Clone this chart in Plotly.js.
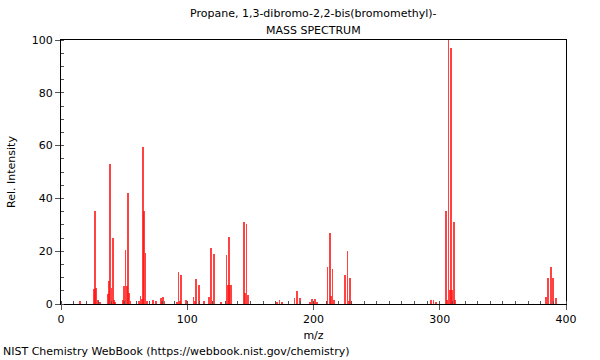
<!DOCTYPE html>
<html>
<head>
<meta charset="utf-8">
<script src="https://cdn.plot.ly/plotly-3.0.1.min.js"></script>
<style>html,body{margin:0;padding:0;background:#fff;}#chart{width:600px;height:360px;}</style>
</head>
<body>
<div id="chart"></div>
<script>
// m/z values and relative intensities
const mz = [15, 26, 27, 28, 29, 31, 37, 38, 39, 40, 41, 42, 43,
  49, 50, 51, 52, 53, 54, 55, 62, 63, 64, 65, 66, 67, 68, 73, 75,
  79, 80, 81, 82, 92, 93, 94, 95, 99, 105, 106, 107, 109, 113, 117, 119, 121, 127,
  131, 132, 133, 134, 135, 145, 146, 147, 148, 171, 173, 175, 185, 187, 189,
  197, 199, 201, 203, 211, 213, 214, 215, 216, 225, 227, 228, 229,
  293, 295, 297, 305, 306, 307, 308, 309, 310, 311, 312,
  384, 386, 388, 390, 392];
const intensity = [1.1, 5.7, 35.2, 6.0, 1.5, 0.6, 3.8, 8.7, 53.0, 6.2, 25.0, 1.5, 0.8,
  1.5, 6.9, 20.4, 6.9, 42.0, 4.3, 1.1, 1.2, 3.0, 1.8, 59.6, 35.3, 19.3, 1.0, 1.5, 1.0,
  2.3, 1.0, 2.5, 1.0, 0.9, 12.2, 1.0, 11.0, 1.5, 2.8, 1.0, 9.5, 7.2, 1.0, 2.5, 21.2, 19.1, 0.8,
  18.6, 7.2, 25.2, 7.2, 7.2, 31.2, 4.0, 30.3, 3.4, 0.8, 1.5, 0.9, 2.4, 4.8, 2.3,
  0.8, 1.9, 1.8, 0.8, 14.0, 27.0, 3.0, 13.3, 1.5, 10.9, 20.0, 1.0, 10.0,
  1.5, 1.5, 0.6, 35.2, 1.6, 100, 5.3, 96.8, 5.3, 31.0, 1.5,
  2.6, 10.0, 14.0, 9.7, 2.1];
const xTickVals = [0, 100, 200, 300, 400];
const yTickVals = [0, 20, 40, 60, 80, 100];
const titleLine1 = 'Propane, 1,3-dibromo-2,2-bis(bromomethyl)-';
const titleLine2 = 'MASS SPECTRUM';
const xTitle = 'm/z';
const yTitle = 'Rel. Intensity';
const footer = 'NIST Chemistry WebBook (https://webbook.nist.gov/chemistry)';

const font = {family: 'DejaVu Sans', size: 11, color: '#000'};

const trace = {
  type: 'bar',
  x: mz,
  y: intensity,
  width: 1.4,
  marker: {color: 'rgba(255,20,20,0.8)', line: {width: 0}},
  hoverinfo: 'x+y'
};

const layout = {
  width: 600, height: 360,
  margin: {l: 61, r: 34, t: 40, b: 56},
  paper_bgcolor: '#fff', plot_bgcolor: '#fff',
  font: font,
  showlegend: false,
  bargap: 0,
  xaxis: {
    range: [0, 400], tickmode: 'array', tickvals: xTickVals,
    ticks: 'outside', ticklen: 5, tickcolor: '#555', tickwidth: 1,
    minor: {dtick: 10, tick0: 0, ticks: 'inside', ticklen: 3, tickcolor: '#555'},
    showline: true, linecolor: '#000', linewidth: 1, mirror: true,
    showgrid: false, zeroline: false, fixedrange: true,
    title: {text: xTitle, font: font, standoff: 6},
    tickfont: font
  },
  yaxis: {
    range: [0, 100], tickmode: 'array', tickvals: yTickVals,
    ticks: 'outside', ticklen: 5, tickcolor: '#555', tickwidth: 1,
    minor: {dtick: 5, tick0: 0, ticks: 'inside', ticklen: 3, tickcolor: '#555'},
    showline: true, linecolor: '#000', linewidth: 1, mirror: true,
    showgrid: false, zeroline: false, fixedrange: true,
    title: {text: yTitle, font: font, standoff: 13},
    tickfont: font
  },
  annotations: [
    {text: titleLine1, xref: 'paper', yref: 'paper', x: 0.5, y: 1, yshift: 27,
     xanchor: 'center', yanchor: 'middle', showarrow: false, font: font},
    {text: titleLine2, xref: 'paper', yref: 'paper', x: 0.5, y: 1, yshift: 10,
     xanchor: 'center', yanchor: 'middle', showarrow: false, font: font},
    {text: footer, xref: 'paper', yref: 'paper', x: -61/505, y: 0, yshift: -56,
     xanchor: 'left', yanchor: 'bottom', showarrow: false, font: font, xshift: 1}
  ]
};

Plotly.newPlot('chart', [trace], layout, {displayModeBar: false, staticPlot: true});
</script>
</body>
</html>
